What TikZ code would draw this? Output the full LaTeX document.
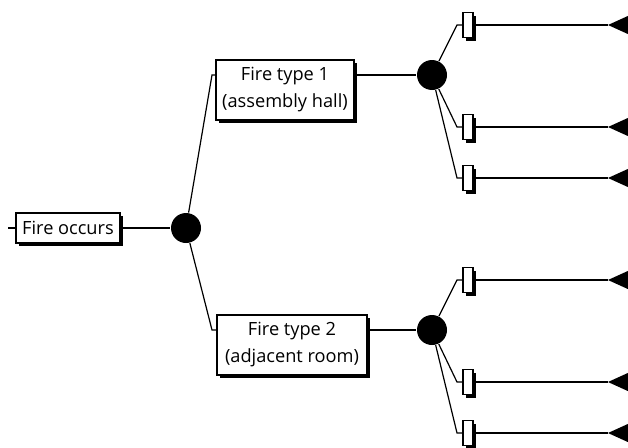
\documentclass[tikz,border=0pt]{standalone}
\usepackage{fontspec}
\setmainfont{Open Sans}
\usetikzlibrary{shadows}
\begin{document}
\begin{tikzpicture}[x=1pt,y=-1pt,
  line width=1.2pt,
  shad/.style={drop shadow={shadow xshift=3pt,shadow yshift=-3pt,fill=black,opacity=1}},
  box/.style={draw,fill=white,shad,inner sep=0pt,align=center,font=\fontsize{18.2}{27}\selectfont},
  term/.style={draw,fill=white,shad,inner sep=0pt,minimum width=10pt,minimum height=25pt},
  chance/.style={circle,fill=black,inner sep=0pt,minimum size=30pt},
  endtri/.style={fill=black}
]
\useasboundingbox (0,0) rectangle (628,447);
% left
\coordinate (st) at (8,228);
\node[box,minimum width=104pt,minimum height=30pt] (occ) at (68,228) {Fire occurs};
\node[chance] (c1) at (186,228) {};
\draw (st) -- (occ.west);
\draw (occ.east) -- (c1);
% fire type boxes
\node[box,minimum width=138pt,minimum height=60pt] (b1) at (285,90) {Fire type 1\\(assembly hall)};
\node[box,minimum width=150pt,minimum height=60pt] (b2) at (292,345) {Fire type 2\\(adjacent room)};
\node[chance] (c2) at (432,75) {};
\node[chance] (c3) at (432,330) {};
\coordinate (ka) at (212,75);
\coordinate (kb) at (212,330);
\draw (c1) -- (ka) -- (ka -| b1.west);
\draw (c1) -- (kb) -- (kb -| b2.west);
\draw (b1.east |- c2.center) -- (c2);
\draw (b2.east |- c3.center) -- (c3);
% terminals
\foreach \i/\y/\c in {1/25/c2,2/127/c2,3/178/c2,4/280/c3,5/382/c3,6/433/c3}{
  \node[term] (t\i) at (468,\y) {};
  \coordinate (k\i) at (457,\y);
  \coordinate (e\i) at (608,\y);
  \draw (\c) -- (k\i) -- (t\i.west);
  \draw (t\i.east) -- (e\i);
  \fill[endtri] (e\i) -- ++(22,-10) -- ++(0,20) -- cycle;
}
\end{tikzpicture}
\end{document}
